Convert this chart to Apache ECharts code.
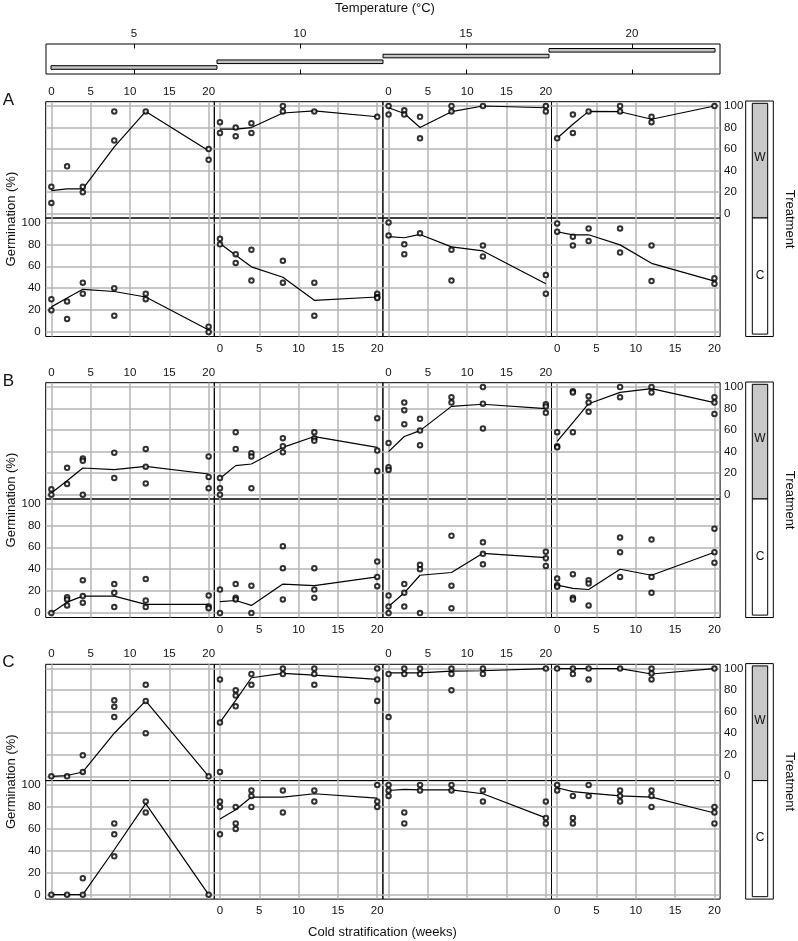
<!DOCTYPE html>
<html>
<head>
<meta charset="utf-8">
<title>Germination coplot</title>
<script src="https://cdn.jsdelivr.net/npm/echarts@6/dist/echarts.min.js"></script>
<style>
  html, body { margin: 0; padding: 0; background: #fff; }
  #chart { width: 798px; height: 941px; }
</style>
</head>
<body>
<div id="chart"></div>
<script>
// cold stratification times (weeks)
const weeks = [0, 2, 4, 8, 12, 20];
const weekTicks = [0, 5, 10, 15, 20];
const pctTicks = [0, 20, 40, 60, 80, 100];

// temperature conditioning intervals (°C)
const tempTicks = [5, 10, 15, 20];
const tempLow = [2.5, 7.5, 12.5, 17.5];
const tempHigh = [7.5, 12.5, 17.5, 22.5];

const blockNames = ['A', 'B', 'C'];
const treatNames = ['W', 'C'];

// replicate germination (%) : [temperature column][week] -> values
const A_W = [
  [[25, 10], [44], [25, 20], [95, 68], [95], [60, 50]],
  [[85, 75], [80, 72], [84, 75], [100, 95], [95], [90]],
  [[100, 92], [96, 92], [90, 70], [100, 95], [100], [100, 95]],
  [[70], [92, 75], [95], [100, 95], [90, 85], [100]]
];
const A_W_line = [
  [21.5, 23, 23, 62, 95, 58.5],
  [78.5, 78.5, 80, 93.5, 95.5, 90],
  [98.4, 93, 80, 94.7, 100, 98.4],
  [70, 83, 95, 94.7, 87.7, 100]
];
const A_C = [
  [[30, 20], [28, 12], [45, 35], [40, 15], [35, 30], [5, 0]],
  [[85, 80], [71, 63], [75, 47], [65, 45], [45, 15], [35, 32, 31]],
  [[100, 88], [80, 71], [90], [75, 47], [79, 69], [52, 35]],
  [[99, 91.5], [87, 79], [94.5, 83], [94.5, 72.5], [79, 46.5], [49, 44]]
];
const A_C_line = [
  [23, 31, 39, 37, 32, 2],
  [80.7, 70, 59.5, 50, 29, 32],
  [87, 86, 89, 77.7, 74, 44],
  [91.5, 88.7, 88.7, 79.5, 62.7, 46.5]
];

const B_W = [
  [[5, 0], [25, 10], [33.5, 31.5, 0], [39, 15.5], [42.5, 26, 10.5], [35.5, 16.5, 6]],
  [[15.5, 6, 0], [58, 42.5], [38.5, 35.5, 6], [52.5, 45, 39.5], [58, 52.5, 50], [71, 41, 22]],
  [[48, 25.5, 23], [85.5, 78.5, 65.5], [70.5, 59.5, 46], [90.5, 85.5], [100, 84.5, 61.5], [84, 82, 76]],
  [[58, 45, 44], [96, 95, 58], [91.5, 85.5, 77], [100, 90.5], [100, 95], [90.5, 85.5, 75]]
];
const B_W_line = [
  [1.6, 13, 24.8, 23.2, 26.3, 19.2],
  [15, 27, 28.5, 44, 54, 44],
  [40, 54, 59.5, 82, 84, 80],
  [49.5, 67, 84.5, 95, 98.5, 85.5]
];
const B_C = [
  [[0], [14.5, 12.5, 7], [30, 15.5, 9.5], [26.5, 18.5, 5.5], [31, 11.5, 5.5], [16, 6, 4.5]],
  [[21.5, 0], [26.5, 14, 12.5], [25, 0], [61, 41, 12.5], [41, 21.5, 14], [47, 33, 24.5]],
  [[16, 6, 0], [26.5, 18.5, 6], [44, 40, 0], [70.5, 25, 4.5], [64.5, 54, 44.5], [56, 50, 43]],
  [[31.5, 25.5, 24], [35.5, 14, 12.5], [30, 27, 7], [69, 55.5, 33], [67, 33, 18.5], [77, 55.5, 46]]
];
const B_C_line = [
  [0, 10, 15.5, 15.5, 8, 8],
  [10.5, 11.5, 7, 26.5, 25, 33],
  [6, 18.5, 34.5, 37, 54.5, 50.5],
  [25.5, 22.5, 21.5, 40, 34.5, 55.5]
];

const C_W = [
  [[0], [0], [4, 19.5], [70.5, 64.5, 55], [85, 70, 40], [0]],
  [[90, 50, 4], [80, 75, 65], [95, 85], [100, 95], [100, 95, 85], [100, 90, 70]],
  [[95, 55], [100, 95], [100, 95], [100, 95, 80], [100, 95], [100]],
  [[100], [100, 95], [100, 90], [100], [100, 95.5, 90], [100]]
];
const C_W_line = [
  [0, 0.7, 4, 40, 70, 0],
  [50, 70.5, 91.5, 95.5, 94, 90],
  [96, 96, 96, 97.7, 98, 100],
  [100, 100, 100, 100, 95, 100]
];
const C_C = [
  [[0], [0], [0, 15], [65, 55, 35], [85, 75], [0]],
  [[85, 80, 55], [80, 65, 60], [95, 90, 80], [95, 75], [95, 85], [100, 85, 80]],
  [[100, 95, 90], [75, 65], [100, 95], [100, 95], [95, 85], [85, 70, 65]],
  [[100, 95], [90, 70, 65], [100, 90], [95, 90, 85], [95, 90, 80], [80, 75, 65]]
];
const C_C_line = [
  [0, 0, 0, 41, 83, 0],
  [69, 77.5, 89, 89, 92, 88],
  [95, 96, 95.5, 95.5, 92, 70],
  [97.5, 94, 92.5, 90, 89, 74.5]
];

const points = [[A_W, A_C], [B_W, B_C], [C_W, C_C]];
const lines = [[A_W_line, A_C_line], [B_W_line, B_C_line], [C_W_line, C_C_line]];

// layout (px)
const FONT = '"Liberation Sans", Arial, Helvetica, sans-serif';
const colX0 = 45.7, colW = 168.6;
const blockTop = [101.7, 382.7, 664.3];
const hW = 116.3, hC = 118.5;

const chart = echarts.init(document.getElementById('chart'));

const grid = [], xAxis = [], yAxis = [], series = [], graphic = [];

blockNames.forEach((bn, b) => {
  treatNames.forEach((tn, r) => {
    for (let c = 0; c < 4; c++) {
      const gi = grid.length;
      grid.push({
        left: colX0 + c * colW, width: colW,
        top: blockTop[b] + (r ? hW : 0), height: r ? hC : hW,
        show: true, borderColor: '#000', borderWidth: 1, backgroundColor: 'transparent'
      });
      const topLabels = r === 0 && c % 2 === 0;
      const bottomLabels = r === 1 && c % 2 === 1;
      xAxis.push({
        gridIndex: gi, type: 'value', min: -0.72, max: 20.72,
        position: topLabels ? 'top' : 'bottom',
        axisLine: { show: false, onZero: false },
        axisTick: { show: false, customValues: weekTicks },
        axisLabel: {
          show: topLabels || bottomLabels, customValues: weekTicks,
          margin: topLabels ? 4 : 6, fontSize: 11.5, color: '#111', fontFamily: FONT
        },
        splitLine: { show: true, lineStyle: { color: '#b4b4b4', width: 1.5 } }
      });
      const leftLabels = r === 1 && c === 0;
      const rightLabels = r === 0 && c === 3;
      yAxis.push({
        gridIndex: gi, type: 'value', min: -4, max: 104,
        position: r === 1 ? 'left' : 'right',
        axisLine: { show: false, onZero: false },
        axisTick: { show: false, customValues: pctTicks },
        axisLabel: {
          show: leftLabels || rightLabels, customValues: pctTicks,
          margin: leftLabels ? 5 : 4, fontSize: 11.5, color: '#111', fontFamily: FONT
        },
        splitLine: { show: true, lineStyle: { color: '#b4b4b4', width: 1.5 } }
      });
      const pts = [];
      points[b][r][c].forEach((vals, wi) => vals.forEach(v => pts.push([weeks[wi], v])));
      series.push({
        type: 'line', xAxisIndex: gi, yAxisIndex: gi, z: 3,
        data: lines[b][r][c].map((v, wi) => [weeks[wi], v]),
        showSymbol: false, silent: true,
        lineStyle: { color: '#000', width: 1.2 }
      });
      series.push({
        type: 'scatter', xAxisIndex: gi, yAxisIndex: gi, z: 4,
        data: pts, symbol: 'emptyCircle', symbolSize: 4.5, silent: true,
        itemStyle: { color: '#000', borderWidth: 1 }
      });
    }
  });

  // treatment strip
  const t0 = blockTop[b], tot = hW + hC;
  graphic.push(
    { type: 'rect', shape: { x: 745.7, y: t0 - 0.7, width: 27.6, height: tot + 0.7 },
      style: { fill: '#fff', stroke: '#000', lineWidth: 1 } },
    { type: 'rect', shape: { x: 752.3, y: t0 + 1.6, width: 15.4, height: hW - 1.6 },
      style: { fill: '#c8c8c8', stroke: '#000', lineWidth: 1 } },
    { type: 'rect', shape: { x: 752.3, y: t0 + hW, width: 15.4, height: hC - 2.4 },
      style: { fill: '#fff', stroke: '#000', lineWidth: 1 } },
    { type: 'text', x: 760, y: t0 + hW / 2 - 2, style: { text: 'W', font: '12px ' + FONT, fill: '#111', textAlign: 'center', textVerticalAlign: 'middle' } },
    { type: 'text', x: 760, y: t0 + hW + hC / 2 - 2, style: { text: 'C', font: '12px ' + FONT, fill: '#111', textAlign: 'center', textVerticalAlign: 'middle' } },
    { type: 'text', x: 790, y: t0 + tot / 2, rotation: -Math.PI / 2,
      style: { text: 'Treatment', font: '13px ' + FONT, fill: '#111', textAlign: 'center', textVerticalAlign: 'middle' } },
    { type: 'text', x: 11, y: t0 + tot / 2, rotation: Math.PI / 2,
      style: { text: 'Germination (%)', font: '13px ' + FONT, fill: '#111', textAlign: 'center', textVerticalAlign: 'middle' } },
    { type: 'text', x: 8.5, y: t0 - 1.5,
      style: { text: bn, font: '17px ' + FONT, fill: '#111', textAlign: 'center', textVerticalAlign: 'middle' } }
  );
});

// temperature panel
const tg = grid.length;
grid.push({ left: 46, width: 674, top: 44, height: 30, show: true, borderColor: '#000', borderWidth: 1 });
['top', 'bottom'].forEach(pos => {
  xAxis.push({
    gridIndex: tg, type: 'value', min: 2.35, max: 22.65, position: pos,
    axisLine: { show: false, onZero: false },
    axisTick: { show: true, inside: true, length: 4.5, customValues: tempTicks, lineStyle: { color: '#000' } },
    axisLabel: { show: pos === 'top', customValues: tempTicks, margin: 4, fontSize: 11.5, color: '#111', fontFamily: FONT },
    splitLine: { show: false }
  });
});
yAxis.push({ gridIndex: tg, type: 'value', min: -0.134, max: 5.1, show: false });
series.push({
  type: 'custom', xAxisIndex: xAxis.length - 2, yAxisIndex: yAxis.length - 1, silent: true,
  data: tempLow.map((lo, i) => [lo, tempHigh[i], i + 1]),
  renderItem: (params, api) => {
    const a = api.coord([api.value(0), api.value(2)]);
    const e = api.coord([api.value(1), api.value(2)]);
    return { type: 'rect', shape: { x: a[0], y: a[1] - 1.8, width: e[0] - a[0], height: 3.6 },
      style: { fill: '#c4c4c4', stroke: '#000', lineWidth: 1 } };
  }
});

graphic.push(
  { type: 'text', x: 385, y: 8.5, style: { text: 'Temperature (°C)', font: '13px ' + FONT, fill: '#111', textAlign: 'center', textVerticalAlign: 'middle' } },
  { type: 'text', x: 382.5, y: 932, style: { text: 'Cold stratification (weeks)', font: '13px ' + FONT, fill: '#111', textAlign: 'center', textVerticalAlign: 'middle' } }
);

chart.setOption({
  animation: false,
  backgroundColor: '#fff',
  grid, xAxis, yAxis, series, graphic
});
</script>
</body>
</html>
